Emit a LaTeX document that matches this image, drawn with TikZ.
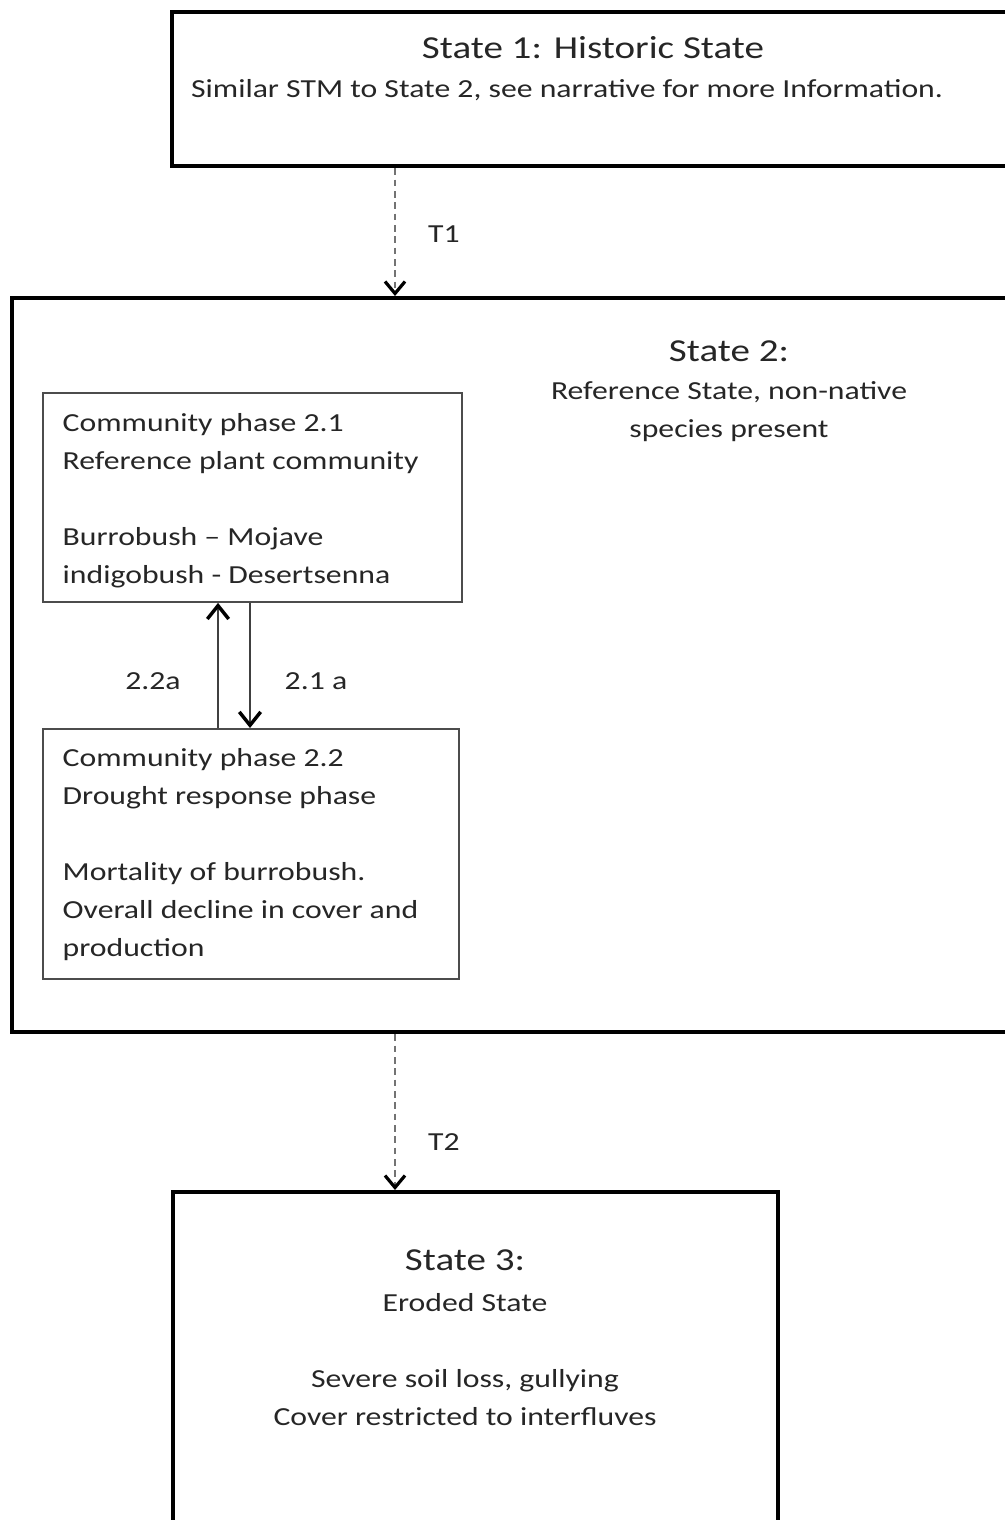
\documentclass[tikz,border=0pt]{standalone}
\usepackage{fontspec}
\setmainfont{Carlito}[FakeStretch = 1.22]
\usetikzlibrary{arrows.meta}

\tikzset{
  statebox/.style = {draw, line width = 3.3pt, anchor = north west, inner sep = 0pt},
  phasebox/.style = {draw = black!70, line width = 1.4pt, anchor = north west, inner sep = 0pt},
  bodytext/.style = {font = \fontsize{19.5}{28.5}\selectfont, align = center, text = black!85},
  titletext/.style = {font = \fontsize{24}{28}\selectfont, text = black!85},
  phasetext/.style = {font = \fontsize{19.5}{28.5}\selectfont, align = left, anchor = west, text = black!85},
  trans/.style = {draw = black!55, dash pattern = on 5pt off 3.5pt, line width = 1.5pt, -{Straight Barb[length=9pt, width=15pt, line width=2.4pt, black]}},
  pathway/.style = {draw = black!75, line width = 1.6pt, -{Straight Barb[length=10pt, width=16pt, line width=2.6pt, black]}}
}

\begin{document}
\begin{tikzpicture}[x = 0.75pt, y = -0.75pt]
\useasboundingbox (0, 0) rectangle (1005, 1520);
\clip (0, 0) rectangle (1005, 1520);

% states
\node[statebox, minimum width = 650pt, minimum height = 115.5pt] (s1) at (170, 10) {};
\node[statebox, minimum width = 780pt, minimum height = 550.5pt] (s2) at (10, 296) {};
\node[statebox, minimum width = 453.75pt, minimum height = 300pt] (s3) at (171, 1190) {};

\node[titletext] (s1title) at (593, 48) {State 1: Historic State};
\node[bodytext] (s1body) at (567, 90) {Similar STM to State 2, see narrative for more Information.};

\node[titletext] (s2title) at (729, 351) {State 2:};
\node[bodytext] (s2body) at (729, 412) {Reference State, non-native\\species present};

\node[titletext] (s3title) at (465, 1260) {State 3:};
\node[bodytext] (s3body) at (465, 1359.5) {Eroded State\\[28.5pt]Severe soil loss, gullying\\Cover restricted to interfluves};

% community phases
\node[phasebox, minimum width = 314.25pt, minimum height = 156.75pt] (p21) at (42, 392) {};
\node[phasebox, minimum width = 312pt, minimum height = 187.5pt] (p22) at (42, 728) {};

\node[phasetext] (p21text) at (58, 500.5) {Community phase 2.1\\Reference plant community\\[28.5pt]Burrobush -- Mojave\\indigobush - Desertsenna};
\node[phasetext] (p22text) at (58, 855) {Community phase 2.2\\Drought response phase\\[28.5pt]Mortality of burrobush.\\Overall decline in cover and\\production};

% transitions
\coordinate (tx) at (395, 0);
\draw[trans] (s1.south -| tx) -- (s2.north -| tx);
\draw[trans] (s2.south -| tx) -- (s3.north -| tx);
\node[bodytext] (t1) at (444, 234) {T1};
\node[bodytext] (t2) at (444, 1142) {T2};

% pathways
\coordinate (up) at (218, 0);
\coordinate (down) at (250, 0);
\draw[pathway] (p22.north -| up) -- (p21.south -| up);
\draw[pathway] (p21.south -| down) -- (p22.north -| down);
\node[bodytext] (l22a) at (153, 681) {2.2a};
\node[bodytext] (l21a) at (316, 681) {2.1 a};

\end{tikzpicture}
\end{document}
